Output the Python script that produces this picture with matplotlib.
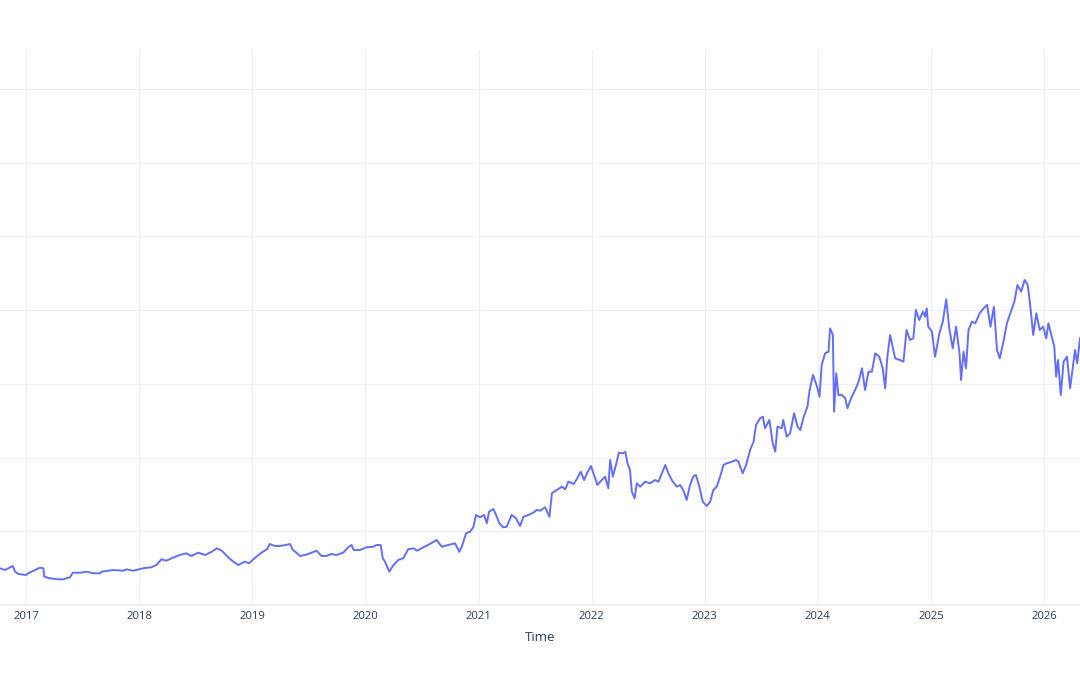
import matplotlib
matplotlib.use('Agg')
import matplotlib.pyplot as plt
import matplotlib.dates as mdates
import pandas as pd

# Series (one point every ~3-5 px of the trace)
dates = [
    '2016-10-09', '2016-10-25', '2016-11-05', '2016-11-19', '2016-11-27', '2016-12-07',
    '2017-01-01', '2017-01-08', '2017-01-25', '2017-02-15', '2017-02-26', '2017-03-01',
    '2017-03-19', '2017-04-15', '2017-05-01', '2017-05-23', '2017-06-01', '2017-06-24',
    '2017-07-16', '2017-08-06', '2017-08-28', '2017-09-02', '2017-10-10', '2017-11-11',
    '2017-11-22', '2017-12-13', '2018-01-14', '2018-02-10', '2018-02-26', '2018-03-14',
    '2018-03-30', '2018-04-16', '2018-05-12', '2018-06-03', '2018-06-19', '2018-07-11',
    '2018-08-02', '2018-08-24', '2018-09-09', '2018-09-25', '2018-10-16', '2018-11-01',
    '2018-11-17', '2018-12-08', '2018-12-22', '2019-01-09', '2019-01-31', '2019-02-18',
    '2019-02-27', '2019-03-15', '2019-03-31', '2019-04-20', '2019-05-03', '2019-05-13',
    '2019-05-24', '2019-06-04', '2019-06-20', '2019-07-12', '2019-07-28', '2019-08-13',
    '2019-08-29', '2019-09-14', '2019-09-30', '2019-10-22', '2019-11-07', '2019-11-18',
    '2019-11-25', '2019-12-15', '2020-01-06', '2020-01-27', '2020-02-07', '2020-02-20',
    '2020-02-27', '2020-03-05', '2020-03-19', '2020-03-30', '2020-04-17', '2020-05-03',
    '2020-05-19', '2020-06-05', '2020-06-17', '2020-07-07', '2020-07-28', '2020-08-19',
    '2020-09-04', '2020-09-25', '2020-10-17', '2020-10-31', '2020-11-08', '2020-11-22',
    '2020-12-05', '2020-12-15', '2020-12-24', '2021-01-06', '2021-01-19', '2021-01-28',
    '2021-02-04', '2021-02-18', '2021-03-01', '2021-03-09', '2021-03-22', '2021-04-02',
    '2021-04-18', '2021-05-02', '2021-05-15', '2021-05-26', '2021-06-11', '2021-06-27',
    '2021-07-08', '2021-07-19', '2021-08-04', '2021-08-18', '2021-08-26', '2021-09-11',
    '2021-09-27', '2021-10-08', '2021-10-18', '2021-11-04', '2021-11-14', '2021-11-27',
    '2021-12-08', '2021-12-17', '2021-12-30', '2022-01-09', '2022-01-20', '2022-02-03',
    '2022-02-14', '2022-02-24', '2022-03-02', '2022-03-11', '2022-03-22', '2022-03-30',
    '2022-04-12', '2022-04-20', '2022-04-27', '2022-05-05', '2022-05-11', '2022-05-20',
    '2022-05-27', '2022-06-07', '2022-06-23', '2022-07-09', '2022-07-25', '2022-08-05',
    '2022-08-27', '2022-09-06', '2022-09-17', '2022-10-03', '2022-10-14', '2022-10-24',
    '2022-11-04', '2022-11-15', '2022-11-25', '2022-12-04', '2022-12-15', '2022-12-26',
    '2023-01-08', '2023-01-19', '2023-01-29', '2023-02-09', '2023-02-20', '2023-03-03',
    '2023-03-14', '2023-03-30', '2023-04-13', '2023-04-20', '2023-05-04', '2023-05-15',
    '2023-05-28', '2023-06-08', '2023-06-16', '2023-06-29', '2023-07-08', '2023-07-15',
    '2023-07-29', '2023-08-09', '2023-08-17', '2023-08-24', '2023-09-07', '2023-09-12',
    '2023-09-23', '2023-10-04', '2023-10-17', '2023-10-28', '2023-11-06', '2023-11-17',
    '2023-11-29', '2023-12-06', '2023-12-17', '2023-12-30', '2024-01-07', '2024-01-14',
    '2024-01-25', '2024-02-05', '2024-02-10', '2024-02-19', '2024-02-23', '2024-03-01',
    '2024-03-08', '2024-03-19', '2024-03-30', '2024-04-06', '2024-04-20', '2024-05-01',
    '2024-05-12', '2024-05-23', '2024-06-02', '2024-06-13', '2024-06-24', '2024-07-05',
    '2024-07-18', '2024-07-29', '2024-08-06', '2024-08-13', '2024-08-22', '2024-08-30',
    '2024-09-07', '2024-09-23', '2024-10-04', '2024-10-14', '2024-10-25', '2024-11-05',
    '2024-11-13', '2024-11-24', '2024-12-06', '2024-12-13', '2024-12-18', '2024-12-23',
    '2025-01-04', '2025-01-14', '2025-01-28', '2025-02-08', '2025-02-19', '2025-03-01',
    '2025-03-12', '2025-03-23', '2025-04-03', '2025-04-08', '2025-04-16', '2025-04-24',
    '2025-05-02', '2025-05-13', '2025-05-24', '2025-06-07', '2025-06-20', '2025-07-01',
    '2025-07-12', '2025-07-23', '2025-08-02', '2025-08-11', '2025-08-24', '2025-09-03',
    '2025-09-14', '2025-09-27', '2025-10-07', '2025-10-19', '2025-10-30', '2025-11-09',
    '2025-11-16', '2025-11-27', '2025-12-07', '2025-12-18', '2025-12-29', '2026-01-08',
    '2026-01-15', '2026-01-26', '2026-02-03', '2026-02-09', '2026-02-15', '2026-02-24',
    '2026-03-05', '2026-03-16', '2026-03-26', '2026-04-04', '2026-04-11', '2026-04-18',
    '2026-04-27',
]

values = [
    4.98, 4.75, 4.98, 5.29, 4.52, 4.21,
    4.07, 4.30, 4.65, 5.06, 4.98, 3.84,
    3.62, 3.49, 3.49, 3.76, 4.38, 4.38,
    4.52, 4.30, 4.30, 4.52, 4.75, 4.65,
    4.84, 4.65, 4.98, 5.12, 5.43, 6.20,
    6.01, 6.34, 6.78, 7.01, 6.65, 7.10,
    6.78, 7.23, 7.69, 7.37, 6.47, 5.88,
    5.43, 5.88, 5.66, 6.34, 7.10, 7.56,
    8.28, 8.01, 8.01, 8.14, 8.28, 7.46,
    7.10, 6.65, 6.78, 7.10, 7.37, 6.65,
    6.65, 6.92, 6.78, 7.10, 7.83, 8.14,
    7.46, 7.46, 7.83, 7.91, 8.14, 8.14,
    6.34, 5.88, 4.52, 5.29, 6.11, 6.34,
    7.56, 7.69, 7.37, 7.83, 8.28, 8.82,
    7.91, 8.14, 8.37, 7.23, 7.91, 9.73,
    9.95, 10.54, 12.21, 11.90, 12.21, 11.09,
    12.66, 13.03, 11.98, 11.09, 10.54, 10.62,
    12.21, 11.76, 10.72, 11.98, 12.21, 12.52,
    12.89, 12.80, 13.26, 11.98, 15.16, 15.60,
    16.05, 15.70, 16.73, 16.42, 17.06, 18.09,
    16.96, 17.87, 18.86, 17.64, 16.28, 16.96,
    17.41, 15.83, 19.67, 17.41, 19.23, 20.66,
    20.58, 20.80, 19.23, 18.32, 15.37, 14.48,
    16.51, 16.05, 16.73, 16.51, 16.96, 16.73,
    19.00, 17.87, 16.96, 16.05, 16.28, 15.60,
    14.25, 16.28, 17.41, 17.64, 16.05, 14.02,
    13.43, 14.02, 15.60, 16.05, 17.41, 19.00,
    19.23, 19.44, 19.67, 19.44, 17.87, 19.00,
    21.03, 22.16, 24.42, 25.33, 25.55, 23.98,
    25.10, 21.94, 20.80, 24.19, 23.98, 25.10,
    22.84, 23.30, 26.01, 24.19, 23.74, 25.55,
    26.91, 29.17, 31.21, 29.62, 28.26, 32.56,
    34.15, 34.37, 37.54, 36.64, 26.23, 31.44,
    28.49, 28.49, 28.05, 26.69, 28.26, 29.17,
    30.30, 32.12, 29.17, 31.66, 31.66, 34.15,
    33.69, 32.12, 29.40, 33.69, 36.64, 35.05,
    33.47, 33.24, 33.01, 37.31, 35.96, 36.19,
    40.03, 38.67, 39.80, 39.12, 40.26, 37.76,
    37.08, 33.69, 36.87, 38.44, 41.48, 37.54,
    34.83, 37.76, 34.15, 30.53, 34.37, 32.12,
    37.31, 38.44, 38.22, 39.58, 40.26, 40.71,
    37.76, 40.47, 34.60, 33.47, 35.96, 38.22,
    39.58, 41.15, 43.42, 42.51, 44.10, 43.42,
    41.15, 36.64, 39.58, 37.31, 37.76, 36.19,
    38.22, 36.41, 35.05, 30.98, 33.24, 28.49,
    33.01, 33.69, 29.40, 32.33, 34.60, 32.80,
    36.19,
]

year_ticks = [str(y) for y in range(2017, 2027)]
grid_values = [10, 20, 30, 40, 50, 60, 70]

GRID = '#EBF0F8'
FONT_COLOR = '#2a3f5f'

plt.rcParams['font.family'] = ['Open Sans', 'DejaVu Sans']

df = pd.DataFrame({'time': pd.to_datetime(dates), 'value': values})

fig = plt.figure(figsize=(10.8, 6.75), dpi=100)
ax = fig.add_axes([0, 70 / 675, 1, 555 / 675])

ax.plot(df['time'], df['value'], color='#636EFA', linewidth=1.4, zorder=3)

# axis ranges (plot area is wider than the saved image on both sides)
ax.set_xlim(pd.Timestamp('2016-10-09'), pd.Timestamp('2026-04-27'))
ax.set_ylim(0, 75.3)

ax.set_xticks(pd.to_datetime([f'{y}-01-01' for y in year_ticks]))
ax.xaxis.set_major_formatter(mdates.DateFormatter('%Y'))
ax.set_yticks(grid_values)

ax.grid(True, color=GRID, linewidth=0.75, zorder=0)
ax.axhline(0, color=GRID, linewidth=1.5, clip_on=False, zorder=1)
for side in ['top', 'right', 'left', 'bottom']:
    ax.spines[side].set_visible(False)

ax.tick_params(axis='x', length=0, pad=4, labelsize=8.1, labelcolor=FONT_COLOR)
ax.tick_params(axis='y', length=0, labelleft=False)

ax.set_xlabel('Time', fontsize=9.6, color=FONT_COLOR, labelpad=7)

plt.savefig('out.png', dpi=100)
plt.close()
